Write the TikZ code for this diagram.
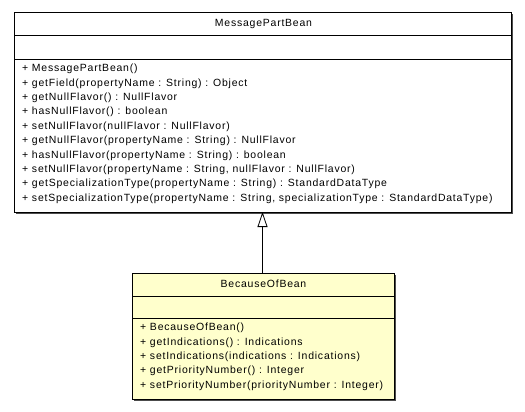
\documentclass[tikz,border=0pt]{standalone}
\usepackage{fontspec}
\setmainfont{Liberation Sans}[LetterSpace=7.5]
\usetikzlibrary{arrows.meta}
\definecolor{classfill}{HTML}{FFFFCC}
\tikzset{
  umltext/.style={anchor=west, inner sep=0pt, font=\fontsize{10.5}{12}\selectfont},
  umltitle/.style={anchor=center, inner sep=0pt, font=\fontsize{10.5}{12}\selectfont},
  boxline/.style={draw=black, line width=0.8pt},
  shadowbox/.style={fill=black!70, draw=none},
  inherit/.style={draw=black, line width=0.8pt, -{Triangle[open, length=15bp, width=10bp]}}
}
\begin{document}
\begin{tikzpicture}[x=1bp, y=-1bp]
\useasboundingbox (0,0) rectangle (525,411);
% MessagePartBean
\fill[shadowbox] (16,14) rectangle (513,214);
\filldraw[boxline, fill=white] (14,12) rectangle (511,212);
\draw[boxline] (14,35) -- (511,35);
\draw[boxline] (14,59) -- (511,59);
\node[umltitle] (mpbtitle) at (263.5,24) {MessagePartBean};
\node[umltext] (m1) at (22,69) {+ MessagePartBean()};
\node[umltext] (m2) at (22,83.4) {+ getField(propertyName : String) : Object};
\node[umltext] (m3) at (22,97.8) {+ getNullFlavor() : NullFlavor};
\node[umltext] (m4) at (22,112.2) {+ hasNullFlavor() : boolean};
\node[umltext] (m5) at (22,126.6) {+ setNullFlavor(nullFlavor : NullFlavor)};
\node[umltext] (m6) at (22,141) {+ getNullFlavor(propertyName : String) : NullFlavor};
\node[umltext] (m7) at (22,155.4) {+ hasNullFlavor(propertyName : String) : boolean};
\node[umltext] (m8) at (22,169.8) {+ setNullFlavor(propertyName : String, nullFlavor : NullFlavor)};
\node[umltext] (m9) at (22,184.2) {+ getSpecializationType(propertyName : String) : StandardDataType};
\node[umltext] (m10) at (22,198.6) {+ setSpecializationType(propertyName : String, specializationType : StandardDataType)};
\coordinate (mpbbottom) at (262.5,212);
% BecauseOfBean
\fill[shadowbox] (134,275) rectangle (396,401);
\filldraw[boxline, fill=classfill] (132,273) rectangle (394,399);
\draw[boxline] (132,296) -- (394,296);
\draw[boxline] (132,318) -- (394,318);
\node[umltitle] (bobtitle) at (263.5,284) {BecauseOfBean};
\node[umltext] (b1) at (140,328) {+ BecauseOfBean()};
\node[umltext] (b2) at (140,342.4) {+ getIndications() : Indications};
\node[umltext] (b3) at (140,356.8) {+ setIndications(indications : Indications)};
\node[umltext] (b4) at (140,371.2) {+ getPriorityNumber() : Integer};
\node[umltext] (b5) at (140,385.6) {+ setPriorityNumber(priorityNumber : Integer)};
\coordinate (bobtop) at (262.5,273);
\draw[inherit] (bobtop) -- (mpbbottom);
\end{tikzpicture}
\end{document}
